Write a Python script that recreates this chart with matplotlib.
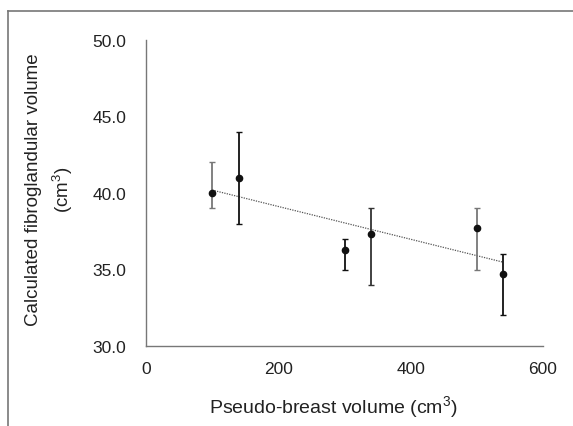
import numpy as np
import matplotlib
matplotlib.use("Agg")
import matplotlib.pyplot as plt
from matplotlib.lines import Line2D

plt.rcParams['font.family'] = ['Liberation Sans', 'DejaVu Sans']
plt.rcParams['mathtext.fontset'] = 'custom'
plt.rcParams['mathtext.rm'] = 'Liberation Sans'
plt.rcParams['mathtext.it'] = 'Liberation Sans:italic'
plt.rcParams['mathtext.bf'] = 'Liberation Sans:bold'

x_vals = [100, 140, 300, 340, 500, 540]
y_vals = [40.0, 41.0, 36.3, 37.3, 37.7, 34.7]
y_low = [39.0, 38.0, 35.0, 34.0, 35.0, 32.0]
y_high = [42.0, 44.0, 37.0, 39.0, 39.0, 36.0]
bar_colors = ['#777777', '#111111', '#111111', '#333333', '#777777', '#111111']
x_ticks = [0, 200, 400, 600]
y_ticks = [30.0, 35.0, 40.0, 45.0, 50.0]

W, H = 573, 427
fig = plt.figure(figsize=(W/100, H/100), dpi=100)
ax = fig.add_axes([146/W, 1-347/H, (543-146)/W, (347-41)/H])

for xi, yi, lo, hi, c in zip(x_vals, y_vals, y_low, y_high, bar_colors):
    ax.errorbar([xi], [yi], yerr=[[yi-lo], [hi-yi]], fmt='none', ecolor=c,
                elinewidth=1.3, capsize=2.3, capthick=1.0, zorder=2)
ax.plot(x_vals, y_vals, 'o', color='#111111', markersize=4.5, zorder=3)

coef = np.polyfit(x_vals, y_vals, 1)
xs = np.array([min(x_vals), max(x_vals)])
ax.plot(xs, np.polyval(coef, xs), linestyle=(0, (1, 1)), color='#555555', linewidth=0.9, zorder=1)

ax.set_xlim(0, 600)
ax.set_ylim(30, 50)
ax.set_xticks(x_ticks)
ax.set_yticks(y_ticks)
ax.set_yticklabels([f"{v:.1f}" for v in y_ticks])
ax.tick_params(axis='both', length=0, labelsize=12.5, colors='#222222')
ax.tick_params(axis='y', pad=14)
ax.tick_params(axis='x', pad=11)
for s in ['top', 'right']:
    ax.spines[s].set_visible(False)
for s in ['left', 'bottom']:
    ax.spines[s].set_color('#777777')
    ax.spines[s].set_linewidth(1.0)

fig.text(333/W, 1-407/H, "Pseudo-breast volume (cm$^{\\mathrm{3}}$)", fontsize=14, color='#222222',
         ha='center', va='center')
fig.text(50/W, 1-190/H, "Calculated fibroglandular volume\n(cm$^{\\mathrm{3}}$)", fontsize=13.5,
         color='#222222', ha='center', va='center', rotation=90, linespacing=1.45,
         multialignment='center')

# outer frame (cropped)
fig.add_artist(Line2D([8/W, 1.0], [1-12/H, 1-12/H], color='#777777', linewidth=1.2,
                      transform=fig.transFigure))
fig.add_artist(Line2D([8/W, 8/W], [0, 1-12/H], color='#777777', linewidth=1.2,
                      transform=fig.transFigure))

fig.savefig("out.png", dpi=100)
